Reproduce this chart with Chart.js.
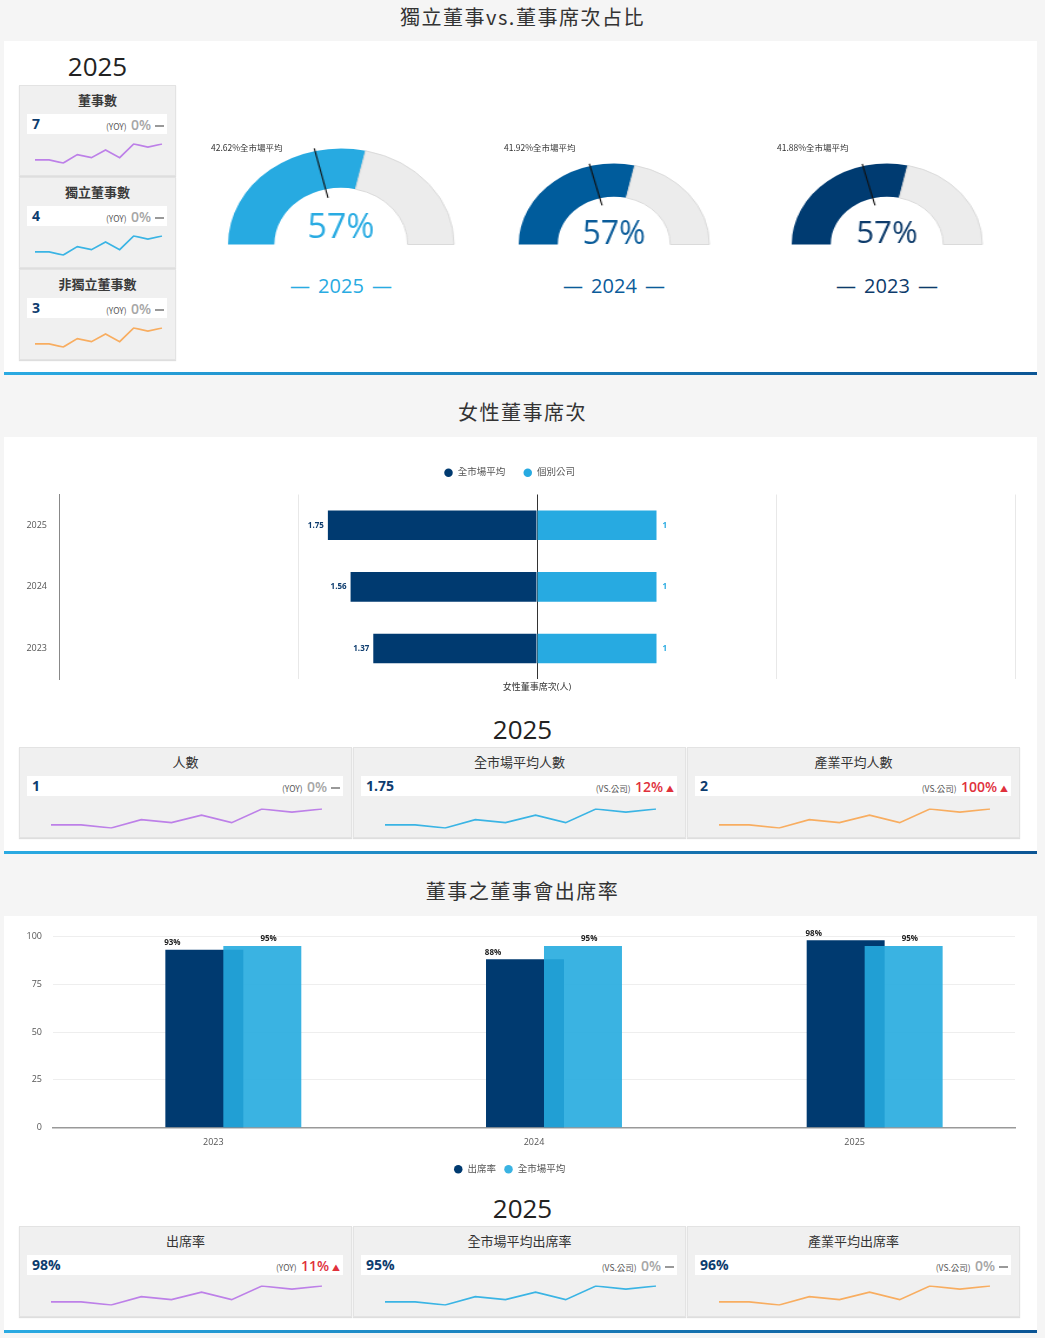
<!DOCTYPE html>
<html lang="zh-Hant">
<head>
<meta charset="utf-8">
<title>董事席次</title>
<script src="https://cdn.jsdelivr.net/npm/chart.js@4.4.1/dist/chart.umd.min.js"></script>
<style>
  html, body { margin: 0; padding: 0; }
  body {
    width: 1045px; height: 1338px; position: relative; overflow: hidden;
    background: #f5f5f5; color: #333;
    font-family: 'Open Sans', 'Noto Sans CJK TC', sans-serif;
  }
  .panel { position: absolute; left: 4px; width: 1033px; background: #fff; }
  .divider { position: absolute; left: 4px; width: 1033px; height: 3px;
    background: linear-gradient(to right, #2aaae2, #0b5595); }
  .title { position: absolute; left: 0; width: 1045px; text-align: center;
    font-family: 'Noto Sans CJK TC', sans-serif; font-size: 20px; letter-spacing: 1.5px;
    line-height: 26px; color: #333; }
  .year { position: absolute; text-align: center; font-size: 26px; line-height: 30px; color: #222; }
  .card { position: absolute; height: 91px; background: #f0f0f0; box-sizing: border-box;
    border: 1px solid #e3e3e3; box-shadow: 0 1px 1px rgba(0,0,0,0.13); }
  .card .name { position: absolute; left: 0; right: 0; top: 6px; text-align: center;
    font-family: 'Noto Sans CJK TC', sans-serif; font-size: 13px; line-height: 16px; color: #333; }
  .card.small .name { font-weight: 700; color: #3a3a3a; }
  .card .row { position: absolute; left: 7px; right: 8px; top: 28px; height: 20px; background: #fff; }
  .card .val { position: absolute; left: 5px; top: 0; line-height: 20px;
    font-weight: 700; font-size: 14px; color: #0d3c6e; }
  .card .chg { position: absolute; right: 3px; top: 0; line-height: 20px; white-space: nowrap; }
  .card .tag { font-family: 'Noto Sans CJK TC', sans-serif; font-size: 8.5px; color: #555; }
  .card .pct { font-size: 14px; font-weight: 600; color: #a6a6a6; }
  .card .pct.up { color: #e0313c; }
  .card .flat { display: inline-block; width: 9px; height: 2px; background: #999;
    vertical-align: middle; margin-left: 4px; }
  .card .arrow { font-size: 8px; color: #e0313c; margin-left: 3px; }
  .card canvas { position: absolute; }
  .gauge { position: absolute; transform-origin: 50% 0; }
  .gauge-avg { position: absolute; font-family: 'Noto Sans CJK TC', sans-serif;
    font-size: 8.5px; line-height: 10px; color: #333; white-space: nowrap; }
  .gauge-year { position: absolute; width: 160px; text-align: center; font-size: 20px;
    line-height: 26px; word-spacing: 3px; }
  .chartbox { position: absolute; left: 4px; }
</style>
</head>
<body>

<div class="title" style="top:4px">獨立董事vs.董事席次占比</div>
<div class="panel" style="top:41px; height:331px"></div>
<div class="divider" style="top:372px"></div>

<div class="title" style="top:399px">女性董事席次</div>
<div class="panel" style="top:437px; height:414px"></div>
<div class="divider" style="top:851px"></div>

<div class="title" style="top:878px">董事之董事會出席率</div>
<div class="panel" style="top:916px; height:414px"></div>
<div class="divider" style="top:1330px"></div>

<div class="year" style="left:19px; width:157px; top:51px">2025</div>
<div class="year" style="left:0; width:1045px; top:714px">2025</div>
<div class="year" style="left:0; width:1045px; top:1193px">2025</div>

<div id="gauges"></div>
<div id="cards"></div>

<canvas id="womenChart" class="chartbox" width="1033" height="250" style="top:450px"></canvas>
<canvas id="attendChart" class="chartbox" width="1033" height="262" style="top:920px"></canvas>

<script>
// ---- data ----
const boardYears = ['2025', '2024', '2023'];
const independentShare = [57, 57, 57];
const marketIndependentShare = [42.62, 41.92, 41.88];

const boardCardNames = ['董事數', '獨立董事數', '非獨立董事數'];
const boardCardValues = ['7', '4', '3'];
const boardCardChange = ['0%', '0%', '0%'];
const boardCardDir = ['flat', 'flat', 'flat'];

const womenYears = ['2025', '2024', '2023'];
const womenMarket = [1.75, 1.56, 1.37];
const womenCompany = [1, 1, 1];

const womenCardNames = ['人數', '全市場平均人數', '產業平均人數'];
const womenCardValues = ['1', '1.75', '2'];
const womenCardTags = ['(YOY)', '(VS.公司)', '(VS.公司)'];
const womenCardChange = ['0%', '12%', '100%'];
const womenCardDir = ['flat', 'up', 'up'];

const attendYears = ['2023', '2024', '2025'];
const attendCompany = [93, 88, 98];
const attendMarket = [95, 95, 95];

const attendCardNames = ['出席率', '全市場平均出席率', '產業平均出席率'];
const attendCardValues = ['98%', '95%', '96%'];
const attendCardTags = ['(YOY)', '(VS.公司)', '(VS.公司)'];
const attendCardChange = ['11%', '0%', '0%'];
const attendCardDir = ['up', 'flat', 'flat'];

// small trend line shown in every KPI card
const trendLine = [1.6, 1.6, 0, 4.4, 2.8, 6.8, 2.8, 10, 8.4, 10];

const sparkColors = ['#bd80e8', '#3ab4e4', '#f8ad60'];

Chart.defaults.font.family = "'Open Sans', 'Noto Sans CJK TC', sans-serif";
Chart.defaults.animation = false;

// ---- KPI cards ----
function spark(canvas, color) {
  new Chart(canvas, {
    type: 'line',
    data: {
      labels: trendLine.map((_, i) => i + 1),
      datasets: [{ data: trendLine, borderColor: color, borderWidth: 1.7, pointRadius: 0, tension: 0 }]
    },
    options: {
      responsive: false,
      events: [],
      layout: { padding: { top: 3, bottom: 3, left: 1, right: 1 } },
      plugins: { legend: { display: false }, tooltip: { enabled: false } },
      scales: { x: { display: false }, y: { display: false } }
    }
  });
}

function makeCard(cls, left, top, width, name, value, tag, change, dir, color, sparkTop) {
  const card = document.createElement('div');
  card.className = 'card ' + cls;
  card.style.left = left + 'px';
  card.style.top = top + 'px';
  card.style.width = width + 'px';
  const sym = dir === 'up' ? '<span class="arrow">▲</span>' : '<span class="flat"></span>';
  card.innerHTML =
    '<div class="name">' + name + '</div>' +
    '<div class="row"><span class="val">' + value + '</span>' +
    '<span class="chg"><span class="tag">' + tag + '</span> ' +
    '<span class="pct' + (dir === 'up' ? ' up' : '') + '">' + change + '</span>' + sym + '</span></div>';
  const cv = document.createElement('canvas');
  cv.width = Math.round(width * 0.82);
  cv.height = 25;
  cv.style.left = Math.round(width * 0.09) + 'px';
  cv.style.top = sparkTop + 'px';
  card.appendChild(cv);
  document.getElementById('cards').appendChild(card);
  spark(cv, color);
}

boardCardNames.forEach((n, i) => {
  makeCard('small', 19, 85 + i * 92, 157, n, boardCardValues[i], '(YOY)', boardCardChange[i], boardCardDir[i], sparkColors[i], 55);
});
const wideLefts = [19, 353, 687];
womenCardNames.forEach((n, i) => {
  makeCard('wide', wideLefts[i], 747, 333, n, womenCardValues[i], womenCardTags[i], womenCardChange[i], womenCardDir[i], sparkColors[i], 58);
});
attendCardNames.forEach((n, i) => {
  makeCard('wide', wideLefts[i], 1226, 333, n, attendCardValues[i], attendCardTags[i], attendCardChange[i], attendCardDir[i], sparkColors[i], 56);
});

// ---- gauges ----
const STRETCH = 1.177;
const gaugeMarks = {
  id: 'gaugeMarks',
  afterDraw(chart, args, opts) {
    const arc = chart.getDatasetMeta(0).data[0];
    if (!arc) return;
    const { x, y, outerRadius: R } = arc;
    const ctx = chart.ctx;
    const a = Math.PI * (1 + opts.avg / 100);
    ctx.save();
    ctx.strokeStyle = '#111';
    ctx.lineWidth = 1.1;
    ctx.beginPath();
    ctx.moveTo(x + 0.5 * R * Math.cos(a), y + 0.5 * R * Math.sin(a));
    ctx.lineTo(x + 1.03 * R * Math.cos(a), y + 1.03 * R * Math.sin(a));
    ctx.stroke();
    // undo the horizontal stretch for the big number
    ctx.translate(x, y - opts.lift);
    ctx.scale(1 / STRETCH, 1);
    ctx.font = opts.size + "px 'Open Sans'";
    ctx.fillStyle = opts.color;
    ctx.textAlign = 'center';
    ctx.textBaseline = 'alphabetic';
    ctx.fillText(opts.value + '%', 0, 0);
    ctx.restore();
  }
};

const gaugeCenters = [341, 614, 887];
const gaugeRadius = [96, 81, 81];
const gaugeFill = ['#27aae1', '#005c9c', '#003b71'];
const gaugeText = ['#29abe2', '#0b5c9a', '#0d3b6b'];
const gaugeFont = [34, 32, 31];
const gaugeLift = [7, 1, 2];

boardYears.forEach((yr, i) => {
  const r = gaugeRadius[i];
  const cx = gaugeCenters[i];
  const w = 2 * r + 10, h = r + 5;
  const box = document.createElement('div');
  box.className = 'gauge';
  box.style.cssText = 'left:' + (cx - w / 2) + 'px; top:' + (244 - (r + 4.5)) + 'px; width:' + w + 'px; height:' + h +
    'px; transform:scaleX(' + STRETCH + ')';
  const cv = document.createElement('canvas');
  cv.width = w; cv.height = h;
  box.appendChild(cv);
  document.getElementById('gauges').appendChild(box);

  const avg = document.createElement('div');
  avg.className = 'gauge-avg';
  avg.style.left = Math.round(cx - 1.15 * r * STRETCH) + 'px';
  avg.style.top = '142px';
  avg.textContent = marketIndependentShare[i] + '%全市場平均';
  document.getElementById('gauges').appendChild(avg);

  const lab = document.createElement('div');
  lab.className = 'gauge-year';
  lab.style.left = (cx - 80) + 'px';
  lab.style.top = '273px';
  lab.style.color = gaugeText[i];
  lab.textContent = '— ' + yr + ' —';
  document.getElementById('gauges').appendChild(lab);

  new Chart(cv, {
    type: 'doughnut',
    data: {
      labels: ['獨立董事', '非獨立董事'],
      datasets: [{
        data: [independentShare[i], 100 - independentShare[i]],
        backgroundColor: [gaugeFill[i], '#ececec'],
        borderColor: [gaugeFill[i], '#dadada'],
        borderWidth: [0, 1]
      }]
    },
    options: {
      responsive: false,
      events: [],
      rotation: -90,
      circumference: 180,
      cutout: '59%',
      layout: { padding: { top: 4 } },
      plugins: {
        legend: { display: false },
        tooltip: { enabled: false },
        gaugeMarks: { avg: marketIndependentShare[i], value: independentShare[i], color: gaugeText[i], size: gaugeFont[i], lift: gaugeLift[i] }
      }
    },
    plugins: [gaugeMarks]
  });
});

// ---- legend spacing helper ----
const legendGap = {
  id: 'legendGap',
  beforeLayout(chart, args, opts) {
    const lg = chart.legend;
    if (!lg || lg._gapPatched) return;
    const fit = lg.fit;
    lg.fit = function () { fit.call(this); this.height += opts.gap || 0; };
    lg._gapPatched = true;
  }
};

// ---- women directors (diverging bars) ----
const womenLabels = {
  id: 'womenLabels',
  afterDatasetsDraw(chart) {
    const ctx = chart.ctx;
    ctx.save();
    ctx.font = "bold 8px 'Open Sans'";
    ctx.textBaseline = 'middle';
    chart.getDatasetMeta(0).data.forEach((bar, i) => {
      ctx.fillStyle = '#0d3c6e';
      ctx.textAlign = 'right';
      ctx.fillText(womenMarket[i], bar.x - 4, bar.y);
    });
    chart.getDatasetMeta(1).data.forEach((bar, i) => {
      ctx.fillStyle = '#27aae1';
      ctx.textAlign = 'left';
      ctx.fillText(womenCompany[i], bar.x + 6, bar.y);
    });
    ctx.restore();
  }
};

new Chart(document.getElementById('womenChart'), {
  type: 'bar',
  data: {
    labels: womenYears,
    datasets: [
      { label: '全市場平均', data: womenMarket.map(v => -v), backgroundColor: '#003a70', categoryPercentage: 0.8, barPercentage: 0.6 },
      { label: '個別公司', data: womenCompany, backgroundColor: '#27aae1', categoryPercentage: 0.8, barPercentage: 0.6 }
    ]
  },
  options: {
    indexAxis: 'y',
    responsive: false,
    events: [],
    layout: { padding: { top: 0, right: 22, bottom: 4, left: 0 } },
    scales: {
      x: {
        stacked: true, min: -4, max: 4,
        ticks: { display: false, stepSize: 2 },
        grid: { drawTicks: false, color: c => (c.tick && c.tick.value === 0 ? '#333' : '#e8e8e8') },
        border: { display: false },
        title: { display: true, text: '女性董事席次(人)', color: '#333', font: { size: 9 }, padding: { top: 3, bottom: 3 } }
      },
      y: {
        stacked: true,
        grid: { display: false, drawTicks: false },
        border: { color: '#888' },
        ticks: { padding: 12, color: '#555', font: { size: 9 } },
        afterFit(scale) { scale.width = 55; }
      }
    },
    plugins: {
      legend: {
        position: 'top',
        labels: { usePointStyle: true, pointStyle: 'circle', boxWidth: 9, boxHeight: 6, padding: 18, color: '#555', font: { size: 9.5 } }
      },
      tooltip: { enabled: false },
      legendGap: { gap: 7 }
    }
  },
  plugins: [womenLabels, legendGap]
});

// ---- attendance (overlapping bars) ----
// the market series is painted after the company series so it sits on top
const marketOnTop = {
  id: 'marketOnTop',
  beforeDatasetDraw(chart, args) {
    if (args.index === 1) return false;
  },
  afterDatasetsDraw(chart) {
    chart.getDatasetMeta(1).controller.draw();
  }
};

const attendLabels = {
  id: 'attendLabels',
  afterDatasetsDraw(chart) {
    const ctx = chart.ctx;
    ctx.save();
    ctx.font = "bold 8px 'Open Sans'";
    ctx.fillStyle = '#222';
    ctx.textAlign = 'center';
    ctx.textBaseline = 'bottom';
    chart.data.datasets.forEach((ds, di) => {
      chart.getDatasetMeta(di).data.forEach((bar, i) => {
        ctx.fillText(ds.data[i] + '%', bar.x + ds.labelShift * bar.width, bar.y - 3);
      });
    });
    ctx.restore();
  }
};

new Chart(document.getElementById('attendChart'), {
  type: 'bar',
  data: {
    labels: attendYears,
    datasets: [
      { label: '出席率', data: attendCompany, backgroundColor: '#003a70',
        categoryPercentage: 0.1123, barPercentage: 4.33, labelShift: -0.41 },
      { label: '全市場平均', data: attendMarket, backgroundColor: 'rgba(37,171,223,0.9)',
        categoryPercentage: 0.611, barPercentage: 0.796, labelShift: 0.08 }
    ]
  },
  options: {
    responsive: false,
    events: [],
    layout: { padding: { top: 0, right: 22, bottom: 0, left: 0 } },
    scales: {
      x: {
        grid: { display: false, drawTicks: false },
        border: { color: '#999', width: 1.5 },
        ticks: { padding: 9, color: '#555', font: { size: 9 } }
      },
      y: {
        min: 0, max: 100,
        ticks: { stepSize: 25, padding: 11, color: '#555', font: { size: 9 } },
        grid: { color: '#eeeeee', drawTicks: false },
        border: { display: false },
        afterFit(scale) { scale.width = 49; }
      }
    },
    plugins: {
      legend: {
        position: 'bottom',
        labels: { usePointStyle: true, pointStyle: 'circle', boxWidth: 9, boxHeight: 6, padding: 8, color: '#555', font: { size: 9.5 } }
      },
      tooltip: { enabled: false },
      legendGap: { gap: -2 }
    }
  },
  plugins: [marketOnTop, attendLabels, legendGap]
});
</script>
</body>
</html>
